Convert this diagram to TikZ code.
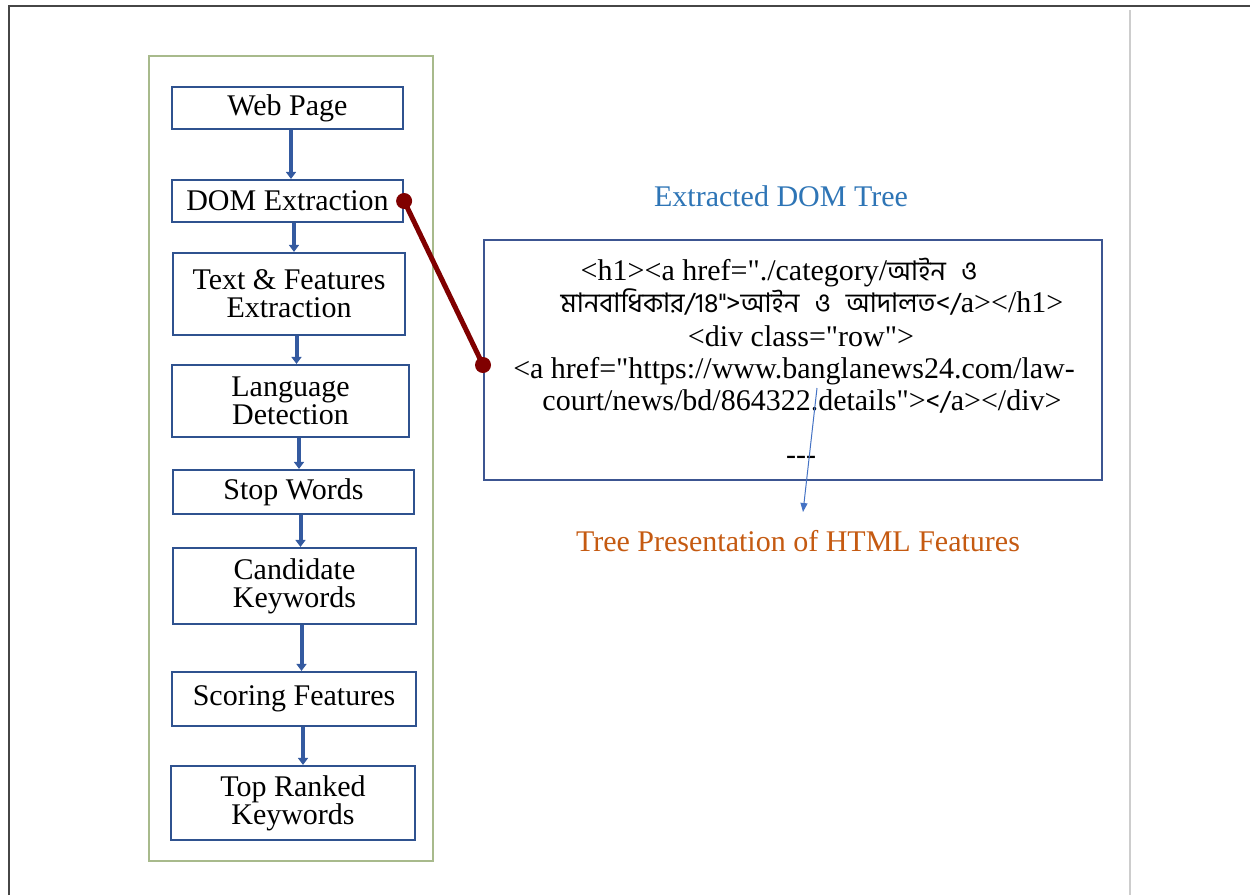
\documentclass[tikz,border=0pt]{standalone}
\usepackage{fontspec}
\setmainfont{Liberation Serif}[Ligatures=TeXOff]
\newfontfamily\banglafont[Script=Bengali,Scale=0.9]{Hind Siliguri}
\newcommand\bangla[1]{{\banglafont #1}}
\newcommand\bnspace{\hspace{15pt}}
\usetikzlibrary{arrows.meta}
\definecolor{boxblue}{RGB}{47,82,143}
\definecolor{arrowblue}{RGB}{52,90,160}
\definecolor{codeblue}{RGB}{60,85,145}
\definecolor{thinblue}{RGB}{68,114,196}
\definecolor{titleblue}{RGB}{46,117,182}
\definecolor{labelorange}{RGB}{197,90,17}
\definecolor{linkred}{RGB}{128,0,0}
\definecolor{framegray}{RGB}{70,70,70}
\definecolor{sepgray}{RGB}{205,205,205}
\definecolor{greenframe}{RGB}{168,186,140}
\begin{document}
\begin{tikzpicture}[x=1pt,y=-1pt,
  stepbox/.style={draw=boxblue, line width=2.2pt, fill=white, align=center,
    inner sep=0pt, font=\fontsize{30}{28}\selectfont},
  flow/.style={draw=arrowblue, line width=4pt, -{Triangle[width=10pt,length=7pt]}},
  caption/.style={font=\fontsize{30}{32}\selectfont, inner sep=0pt},
  codeline/.style={caption, anchor=base}
]
\useasboundingbox (0,0) rectangle (1250,895);
\fill[white] (0,0) rectangle (1250,895);

% page frame and separator
\draw[line width=2pt, draw=framegray] (9,895) -- (9,6) -- (1250,6);
\draw[line width=1.5pt, draw=sepgray] (1130,10) -- (1130,895);

% pipeline container
\draw[draw=greenframe, line width=1.2pt] (149,56) rectangle (433,861);

% pipeline steps
\node[stepbox, minimum width=231pt, minimum height=42pt] (web)   at (287.5,108) {Web Page};
\node[stepbox, minimum width=231pt, minimum height=42pt] (dom)   at (287.5,201) {DOM Extraction};
\node[stepbox, minimum width=232pt, minimum height=82pt] (text)  at (289,294)   {Text \& Features\\Extraction};
\node[stepbox, minimum width=237pt, minimum height=72pt] (lang)  at (290.5,401) {Language\\Detection};
\node[stepbox, minimum width=241pt, minimum height=44pt] (stop)  at (293.5,492) {Stop Words};
\node[stepbox, minimum width=243pt, minimum height=76pt] (cand)  at (294.5,586) {Candidate\\Keywords};
\node[stepbox, minimum width=244pt, minimum height=54pt] (score) at (294,699)   {Scoring Features};
\node[stepbox, minimum width=244pt, minimum height=74pt] (top)   at (293,803)   {Top Ranked\\Keywords};

% flow arrows
\draw[flow] ([xshift=3.5pt]web.south)  -- ([xshift=3.5pt]web.south |- dom.north);
\draw[flow] ([xshift=6.5pt]dom.south)  -- ([xshift=6.5pt]dom.south |- text.north);
\draw[flow] ([xshift=7.5pt]text.south) -- ([xshift=7.5pt]text.south |- lang.north);
\draw[flow] ([xshift=8.5pt]lang.south) -- ([xshift=8.5pt]lang.south |- stop.north);
\draw[flow] ([xshift=7pt]stop.south)   -- ([xshift=7pt]stop.south |- cand.north);
\draw[flow] ([xshift=7pt]cand.south)   -- ([xshift=7pt]cand.south |- score.north);
\draw[flow] ([xshift=9pt]score.south)  -- ([xshift=9pt]score.south |- top.north);

% extracted DOM panel
\node[caption, text=titleblue] (title) at (781,196) {Extracted DOM Tree};
\node[draw=codeblue, line width=2pt, minimum width=618pt, minimum height=240pt, inner sep=0pt] (code) at (793,360) {};
\node[codeline] (codeA) at (779,280) {<h1><a href="./category/\bangla{আইন\bnspace ও}};
\node[codeline] (codeB) at (812,312) {\bangla{মানবাধিকার/18">আইন\bnspace ও\bnspace আদালত</}a></h1>};
\node[codeline] (codeC) at (801,346) {<div class="row">};
\node[codeline] (codeD) at (794,378) {<a href="https://www.banglanews24.com/law-};
\node[codeline] (codeE) at (802,410) {court/news/bd/864322.details">\bangla{</}a></div>};
\node[codeline] (dashes) at (801,464) {---};
\node[caption, text=labelorange] (label) at (798,541) {Tree Presentation of HTML Features};

% link from the DOM step to the panel
\draw[draw=linkred, line width=5pt] (dom.east) -- ([yshift=-5pt]code.west);
\fill[linkred] (dom.east) circle[radius=8pt];
\fill[linkred] ([yshift=-5pt]code.west) circle[radius=8pt];

% pointer to the tree presentation
\coordinate (pointstart) at (817,388);
\coordinate (pointend) at (803,512);
\draw[draw=thinblue, line width=1pt, -{Triangle[width=7pt,length=9pt]}] (pointstart) -- (pointend);
\end{tikzpicture}
\end{document}
